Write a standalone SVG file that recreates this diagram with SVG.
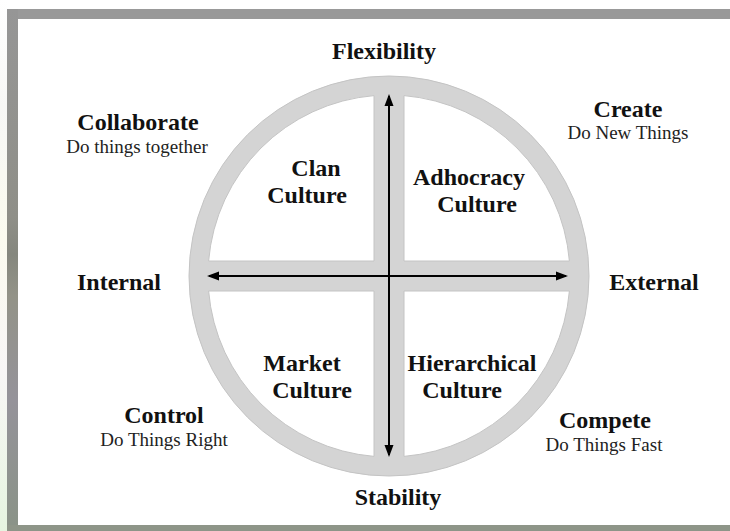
<svg xmlns="http://www.w3.org/2000/svg" width="730" height="531" viewBox="0 0 730 531">
<defs>
<linearGradient id="leftbg" x1="0" y1="0" x2="0" y2="1">
<stop offset="0" stop-color="#ffffff"/>
<stop offset="0.2" stop-color="#f7f7f5"/>
<stop offset="0.45" stop-color="#fbfbef"/>
<stop offset="0.7" stop-color="#f8f6f6"/>
<stop offset="1" stop-color="#e6f5e0"/>
</linearGradient>
<linearGradient id="leftband" x1="0" y1="0" x2="0" y2="1">
<stop offset="0" stop-color="#969696"/>
<stop offset="0.4" stop-color="#8f8f88"/>
<stop offset="0.47" stop-color="#85877e"/>
<stop offset="0.55" stop-color="#939388"/>
<stop offset="0.75" stop-color="#95939a"/>
<stop offset="1" stop-color="#8a9387"/>
</linearGradient>
<marker id="ah" markerUnits="userSpaceOnUse" markerWidth="12" markerHeight="10" refX="10" refY="5" orient="auto-start-reverse">
<path d="M0,0.5 L12,5 L0,9.5 Z" fill="#000"/>
</marker>
<style>
.b{font-family:"Liberation Serif","Times New Roman",serif;font-weight:bold;font-size:24px;fill:#111;text-anchor:middle}
.r{font-family:"Liberation Serif","Times New Roman",serif;font-size:19px;fill:#222;text-anchor:middle}
.q{fill:#ffffff;stroke:#c4c4c4;stroke-width:1}
.ax{stroke:#000;stroke-width:2;fill:none}
</style>
</defs>
<rect x="0" y="0" width="730" height="531" fill="#ffffff"/>
<rect x="0" y="0" width="7" height="531" fill="url(#leftbg)"/>
<rect x="7" y="9" width="723" height="10" fill="#999999"/>
<rect x="7" y="9" width="11" height="522" fill="url(#leftband)"/>
<rect x="7" y="525" width="723" height="6" fill="#8e9588"/>
<rect x="18" y="19" width="712" height="506" fill="#ffffff"/>

<g id="wheel">
<circle cx="389" cy="276" r="200" fill="#d4d4d4" stroke="#c4c4c4" stroke-width="1"/>
<path class="q" d="M404,261 L404,95.62 A181,181 0 0 1 569.38,261 Z"/>
<path class="q" d="M374,261 L208.62,261 A181,181 0 0 1 374,95.62 Z"/>
<path class="q" d="M374,291 L374,456.38 A181,181 0 0 1 208.62,291 Z"/>
<path class="q" d="M404,291 L569.38,291 A181,181 0 0 1 404,456.38 Z"/>
</g>

<g id="connectors">
<line class="ax" x1="389" y1="96" x2="389" y2="455" marker-start="url(#ah)" marker-end="url(#ah)"/>
<line class="ax" x1="209" y1="276" x2="566" y2="276" marker-start="url(#ah)" marker-end="url(#ah)"/>
</g>

<g id="flexibility"><text class="b" x="384" y="59">Flexibility</text></g>
<g id="stability"><text class="b" x="398" y="505">Stability</text></g>
<g id="internal"><text class="b" x="119" y="290">Internal</text></g>
<g id="external"><text class="b" x="654" y="290">External</text></g>

<g id="collaborate">
<text class="b" x="138" y="130">Collaborate</text>
<text class="r" x="137" y="153">Do things together</text>
</g>
<g id="create">
<text class="b" x="628" y="117">Create</text>
<text class="r" x="628" y="139">Do New Things</text>
</g>
<g id="control">
<text class="b" x="164" y="423">Control</text>
<text class="r" x="164" y="446">Do Things Right</text>
</g>
<g id="compete">
<text class="b" x="605" y="428">Compete</text>
<text class="r" x="604" y="451">Do Things Fast</text>
</g>

<g id="clan">
<text class="b" x="316" y="176">Clan</text>
<text class="b" x="307" y="203">Culture</text>
</g>
<g id="adhocracy">
<text class="b" x="469" y="185">Adhocracy</text>
<text class="b" x="477" y="212">Culture</text>
</g>
<g id="market">
<text class="b" x="302" y="371">Market</text>
<text class="b" x="312" y="398">Culture</text>
</g>
<g id="hierarchical">
<text class="b" x="472" y="371">Hierarchical</text>
<text class="b" x="462" y="398">Culture</text>
</g>
</svg>
